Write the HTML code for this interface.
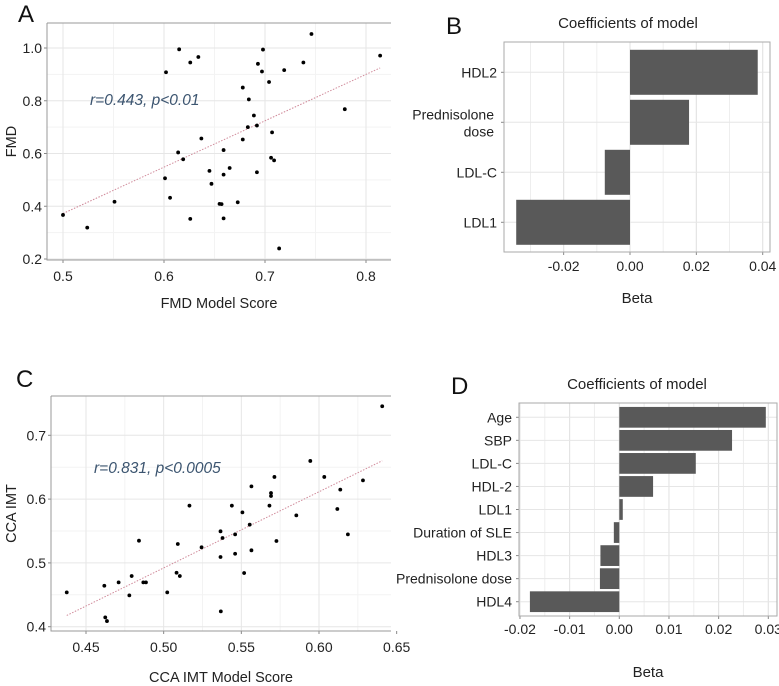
<!DOCTYPE html>
<html><head><meta charset="utf-8"><style>
html,body{margin:0;padding:0;background:#fff}
svg{display:block;font-family:"Liberation Sans",sans-serif}
</style></head><body>
<svg id="fig" width="779" height="686" viewBox="0 0 779 686" xmlns="http://www.w3.org/2000/svg"></svg>
<script>
// Panel A data
const aX=[0.500,0.524,0.551,0.602,0.601,0.615,0.626,0.634,0.614,0.619,0.606,0.626,0.637,0.645,0.647,0.655,0.659,0.659,0.665,0.657,0.659,0.673,0.698,0.678,0.678,0.683,0.684,0.689,0.692,0.692,0.693,0.697,0.704,0.707,0.706,0.709,0.714,0.719,0.738,0.746,0.779,0.814];
const aY=[0.367,0.319,0.417,0.908,0.506,0.995,0.945,0.966,0.604,0.578,0.432,0.352,0.657,0.534,0.485,0.409,0.613,0.520,0.545,0.408,0.354,0.415,0.994,0.850,0.653,0.700,0.805,0.744,0.706,0.529,0.940,0.911,0.871,0.680,0.584,0.574,0.240,0.916,0.945,1.053,0.768,0.971];
const aXTicks=[0.5,0.6,0.7,0.8];
const aYTicks=[0.2,0.4,0.6,0.8,1.0];
const aXTickLabels=["0.5","0.6","0.7","0.8"];
const aYTickLabels=["0.2","0.4","0.6","0.8","1.0"];
// Panel C data
const cX=[0.4376,0.4618,0.4624,0.4635,0.4710,0.4779,0.4794,0.4841,0.4869,0.4886,0.5023,0.5083,0.5091,0.5104,0.5166,0.5244,0.5366,0.5379,0.5366,0.5368,0.5439,0.5460,0.5460,0.5507,0.5518,0.5554,0.5565,0.5565,0.5681,0.5691,0.5691,0.5713,0.5726,0.5854,0.5944,0.6034,0.6118,0.6137,0.6186,0.6283,0.6407];
const cY=[0.4538,0.4642,0.4146,0.4088,0.4695,0.4491,0.4794,0.5348,0.4695,0.4695,0.4538,0.4846,0.5296,0.4794,0.5897,0.5244,0.5495,0.5390,0.5092,0.4240,0.5897,0.5447,0.5144,0.5792,0.4841,0.5599,0.6200,0.5197,0.5897,0.6096,0.6049,0.6347,0.5343,0.5745,0.6598,0.6347,0.5845,0.6148,0.5447,0.6294,0.7455];
const cXTicks=[0.45,0.50,0.55,0.60,0.65];
const cYTicks=[0.4,0.5,0.6,0.7];
const cXTickLabels=["0.45","0.50","0.55","0.60","0.65"];
const cYTickLabels=["0.4","0.5","0.6","0.7"];
// Panel B data
const bCats=["HDL2","Prednisolone dose","LDL-C","LDL1"];
const bVals=[0.0385,0.0178,-0.0076,-0.0343];
const bXTicks=[-0.02,0,0.02,0.04];
const bXTickLabels=["-0.02","0.00","0.02","0.04"];
// Panel D data
const dCats=["Age","SBP","LDL-C","HDL-2","LDL1","Duration of SLE","HDL3","Prednisolone dose","HDL4"];
const dVals=[0.0295,0.0227,0.0154,0.0068,0.0007,-0.0011,-0.0038,-0.0039,-0.018];
const dXTicks=[-0.02,-0.01,0,0.01,0.02,0.03];
const dXTickLabels=["-0.02","-0.01","0.00","0.01","0.02","0.03"];

const NS="http://www.w3.org/2000/svg";
const svg=document.getElementById('fig');
function mk(tag,attrs,parent,text){const e=document.createElementNS(NS,tag);for(const k in attrs)e.setAttribute(k,attrs[k]);if(text!==undefined)e.textContent=text;(parent||svg).appendChild(e);return e;}
function lin(d0,d1,r0,r1){return v=>r0+(v-d0)*(r1-r0)/(d1-d0);}
const TF=14;

function scatter(name,box,xs,ys,X,Y,xt,xtl,yt,ytl,xTitle,yTitle,ann,xTitleY){
  const g=mk('g',{});
  
  
  for(let i=0;i<xt.length-1;i++){const m=(xt[i]+xt[i+1])/2;const px=X(m);if(px>box.l&&px<box.r){const l=mk('line',{x1:px,x2:px,y1:box.t,y2:box.b,stroke:'#f3f3f3','stroke-width':1},g);}}
  for(let i=0;i<yt.length-1;i++){const m=(yt[i]+yt[i+1])/2;const py=Y(m);const l=mk('line',{x1:box.l,x2:box.r,y1:py,y2:py,stroke:'#f3f3f3','stroke-width':1},g);}
  xt.forEach((v,i)=>{const px=X(v);if(px<=box.r+1){const l=mk('line',{x1:px,x2:px,y1:box.t,y2:box.b,stroke:'#e6e6e6'},g);}
    const tk=mk('line',{x1:px,x2:px,y1:box.b,y2:box.b+3,stroke:'#888'},g);
    const t=mk('text',{x:px,y:box.b+21,'text-anchor':'middle','font-size':TF,fill:'#222'},g,xtl[i]);});
  yt.forEach((v,i)=>{const py=Y(v);const l=mk('line',{x1:box.l,x2:box.r,y1:py,y2:py,stroke:'#e6e6e6'},g);
    const tk=mk('line',{x1:box.l-3,x2:box.l,y1:py,y2:py,stroke:'#888'},g);
    const t=mk('text',{x:box.l-5,y:py+5,'text-anchor':'end','font-size':TF,fill:'#222'},g,ytl[i]);});
  const fr=mk('path',{d:`M${box.l},${box.t}H${box.r}M${box.l},${box.t}V${box.b}H${box.r}`,fill:'none',stroke:'#999'},g);
  
  const n=xs.length;let mx=0,my=0;for(let i=0;i<n;i++){mx+=xs[i];my+=ys[i];}mx/=n;my/=n;
  let sxy=0,sxx=0;for(let i=0;i<n;i++){sxy+=(xs[i]-mx)*(ys[i]-my);sxx+=(xs[i]-mx)**2;}
  const b=sxy/sxx,a=my-b*mx;const x0=Math.min(...xs),x1=Math.max(...xs);
  const rl=mk('line',{x1:X(x0),y1:Y(a+b*x0),x2:X(x1),y2:Y(a+b*x1),stroke:'#d08a9a','stroke-width':1,'stroke-dasharray':'1.5,1.5'},g);
  
  for(let i=0;i<n;i++){const c=mk('circle',{cx:X(xs[i]),cy:Y(ys[i]),r:1.9,fill:'#000'},g);}
  const an=mk('text',{x:ann.x,y:ann.y,'font-size':15.5,'font-style':'italic',fill:'#3c5570'},g,ann.t);
  const xtT=mk('text',{x:(box.l+box.r)/2,y:xTitleY,'text-anchor':'middle','font-size':14.5,fill:'#222'},g,xTitle);
  const cy=(box.t+box.b)/2;
  const ytT=mk('text',{x:0,y:0,transform:`translate(16,${cy}) rotate(-90)`,'text-anchor':'middle','font-size':14.5,fill:'#222'},g,yTitle);
}

function bars(name,box,cats,vals,X,xt,xtl,rowTop,step,titleX,titleY,tickY,betaY,minorStep){
  const g=mk('g',{});
  
  
  const lo=xt[0]-minorStep, hi=xt[xt.length-1]+minorStep;
  for(let v=lo;v<=hi+1e-9;v+=minorStep){const px=X(v);if(px>box.l&&px<box.r){const l=mk('line',{x1:px,x2:px,y1:box.t,y2:box.b,stroke:'#eeeeee'},g);}}
  xt.forEach((v,i)=>{const px=X(v);const l=mk('line',{x1:px,x2:px,y1:box.t,y2:box.b,stroke:'#e2e2e2'},g);
    const tk=mk('line',{x1:px,x2:px,y1:box.b,y2:box.b+3,stroke:'#888'},g);
    const t=mk('text',{x:px,y:tickY,'text-anchor':'middle','font-size':TF,fill:'#222'},g,xtl[i]);});
  cats.forEach((c,i)=>{const cy=rowTop+i*step;
    const l=mk('line',{x1:box.l,x2:box.r,y1:cy,y2:cy,stroke:'#e6e6e6'},g);
    const tk=mk('line',{x1:box.l-3,x2:box.l,y1:cy,y2:cy,stroke:'#888'},g);
    const v=vals[i];const x0=X(0),x1=X(v);const h=step*0.9;
    const r=mk('rect',{x:Math.min(x0,x1),y:cy-h/2,width:Math.abs(x1-x0),height:h,fill:'#595959'},g);
    
    let lab;
    if(c==="Prednisolone dose" && name==="panel-b"){
      lab=mk('text',{x:box.l-10,y:cy-3,'text-anchor':'end','font-size':TF,fill:'#222'},g);
      mk('tspan',{x:box.l-10,dy:0},lab,'Prednisolone');mk('tspan',{x:box.l-10,dy:17},lab,'dose');
    } else lab=mk('text',{x:box.l-7,y:cy+5,'text-anchor':'end','font-size':TF,fill:'#222'},g,c);
    });
  const fr=mk('rect',{x:box.l,y:box.t,width:box.r-box.l,height:box.b-box.t,fill:'none',stroke:'#aaa'},g);
  const tt=mk('text',{x:titleX,y:titleY,'text-anchor':'middle','font-size':15,fill:'#222'},g,'Coefficients of model');
  const bt=mk('text',{x:(box.l+box.r)/2,y:betaY,'text-anchor':'middle','font-size':15,fill:'#222'},g,'Beta');
}

const boxA={l:47,r:391,t:23,b:260};
scatter('panel-a',boxA,aX,aY,lin(0.5,0.8,63,366),lin(0.2,1.0,259,48),aXTicks,aXTickLabels,aYTicks,aYTickLabels,'FMD Model Score','FMD',{x:90,y:105,t:'r=0.443, p<0.01'},308);
const boxC={l:51,r:391,t:396,b:631};
scatter('panel-c',boxC,cX,cY,lin(0.45,0.60,86,319),lin(0.4,0.7,626.7,435.3),cXTicks,cXTickLabels,cYTicks,cYTickLabels,'CCA IMT Model Score','CCA IMT',{x:94,y:473,t:'r=0.831, p<0.0005'},682);
bars('panel-b',{l:504,r:770,t:42,b:252},bCats,bVals,lin(0,0.04,630,762.7),bXTicks,bXTickLabels,72.3,50,628,28,271,303,0.01);
bars('panel-d',{l:519,r:777,t:403,b:616},dCats,dVals,lin(0,0.03,619.3,768.3),dXTicks,dXTickLabels,417.3,23.05,637,389,634,677,0.005);

[['A',18,22],['B',446,34],['C',16,387],['D',451,394]].forEach(([t,x,y])=>{
  const e=mk('text',{x:x,y:y,'font-size':24,fill:'#111'},svg,t);
  
  
});
</script>
</body></html>
